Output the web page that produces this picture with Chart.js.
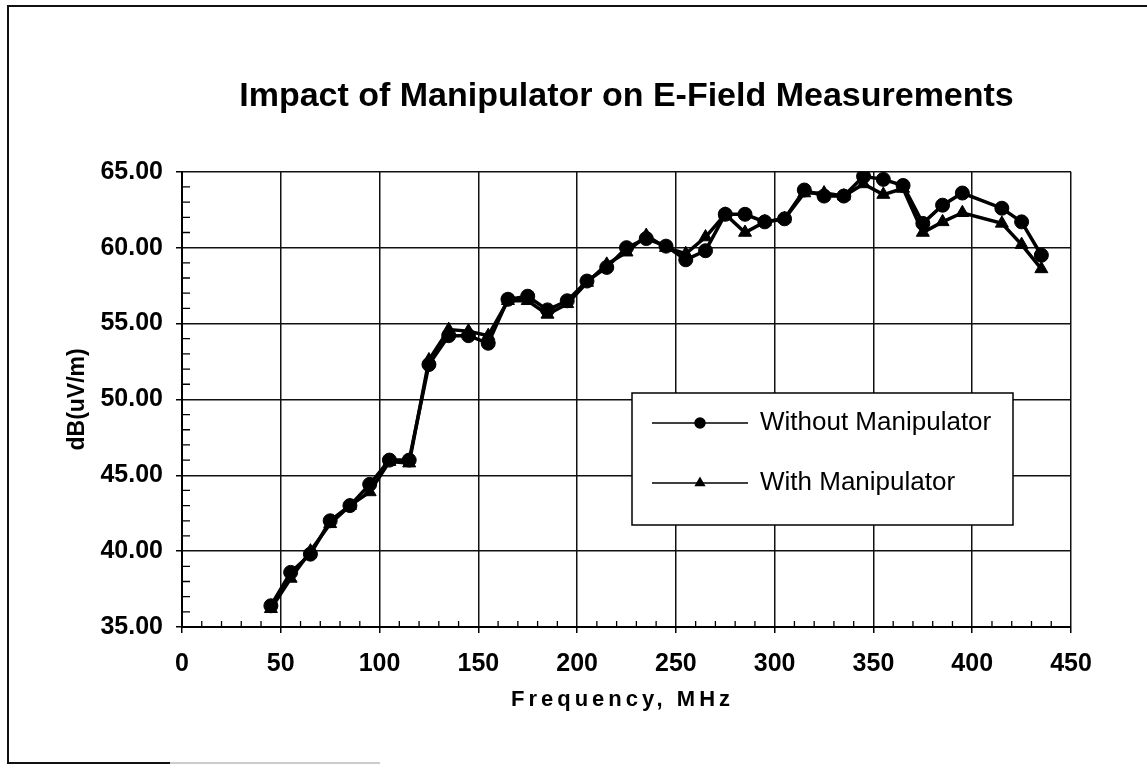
<!DOCTYPE html>
<html>
<head>
<meta charset="utf-8">
<script src="https://cdn.jsdelivr.net/npm/chart.js@4.4.0/dist/chart.umd.min.js"></script>
<style>
  body { margin: 0; background: #fff; }
  #wrap { width: 1147px; height: 770px; }
</style>
</head>
<body>
<div id="wrap"><canvas id="efield" width="1147" height="770"></canvas></div>
<script>
// Frequencies (MHz) - there is no point at 405
const freqs = [45, 55, 65, 75, 85, 95, 105, 115, 125, 135, 145, 155, 165, 175, 185, 195,
    205, 215, 225, 235, 245, 255, 265, 275, 285, 295, 305, 315, 325, 335, 345, 355,
    365, 375, 385, 395, 415, 425, 435];

// dB(uV/m)
const withoutManip = [36.4, 38.6, 39.8, 42.0, 43.0, 44.4, 46.0, 46.0, 52.3, 54.2, 54.2, 53.7,
    56.6, 56.8, 55.9, 56.5, 57.8, 58.7, 60.0, 60.6, 60.1, 59.2, 59.8, 62.2, 62.2, 61.7,
    61.9, 63.8, 63.4, 63.4, 64.7, 64.5, 64.1, 61.6, 62.8, 63.6, 62.6, 61.7, 59.5];
const withManip = [36.2, 38.2, 40.0, 41.8, 43.0, 43.9, 45.9, 45.8, 52.6, 54.6, 54.5, 54.2,
    56.5, 56.5, 55.6, 56.3, 57.7, 58.9, 59.7, 60.8, 60.0, 59.6, 60.7, 62.2, 61.0, 61.7,
    61.9, 63.6, 63.6, 63.4, 64.2, 63.5, 63.9, 61.0, 61.7, 62.3, 61.6, 60.2, 58.6];

const seriesNames = ["Without Manipulator", "With Manipulator"];
const titleText = "Impact of Manipulator on E-Field Measurements";
const xTitle = "Frequency, MHz";
const yTitle = "dB(uV/m)";

const FONT = "'Liberation Sans', Arial, sans-serif";

function toPoints(xs, ys) {
    return xs.map((x, i) => ({ x: x, y: ys[i] }));
}

// frame, inner minor ticks, x title and the boxed legend
const extras = {
    id: "extras",
    beforeDatasetsDraw(chart) {
        const ctx = chart.ctx;
        const xs = chart.scales.x, ys = chart.scales.y;
        const area = chart.chartArea;
        ctx.save();
        ctx.strokeStyle = "#000";
        ctx.lineWidth = 1.3;
        ctx.beginPath();
        for (let v = 10; v < 450; v += 10) {
            if (v % 50 === 0) continue;
            const px = xs.getPixelForValue(v);
            ctx.moveTo(px, area.bottom);
            ctx.lineTo(px, area.bottom - 6);
        }
        for (let v = 36; v < 65; v += 1) {
            if (v % 5 === 0) continue;
            const py = ys.getPixelForValue(v);
            ctx.moveTo(area.left, py);
            ctx.lineTo(area.left + 8, py);
        }
        ctx.stroke();
        ctx.restore();
    },
    afterDraw(chart) {
        const ctx = chart.ctx;
        const area = chart.chartArea;
        ctx.save();

        // outer frame
        ctx.strokeStyle = "#111";
        ctx.lineWidth = 2;
        ctx.beginPath();
        ctx.moveTo(1147, 6);
        ctx.lineTo(8, 6);
        ctx.lineTo(8, 763);
        ctx.lineTo(170, 763);
        ctx.stroke();
        ctx.strokeStyle = "#999";
        ctx.lineWidth = 1;
        ctx.beginPath();
        ctx.moveTo(170, 763);
        ctx.lineTo(380, 763);
        ctx.stroke();

        // x axis title
        ctx.fillStyle = "#000";
        ctx.font = "bold 22px " + FONT;
        ctx.textAlign = "center";
        ctx.textBaseline = "middle";
        ctx.letterSpacing = "4px";
        ctx.fillText(xTitle, (area.left + area.right) / 2 - 4, 700);
        ctx.letterSpacing = "0px";

        // legend box
        const bx = 632, by = 393, bw = 381, bh = 132;
        ctx.fillStyle = "#fff";
        ctx.fillRect(bx, by, bw, bh);
        ctx.strokeStyle = "#000";
        ctx.lineWidth = 1.5;
        ctx.strokeRect(bx, by, bw, bh);

        const rows = [423, 483];
        chart.data.datasets.forEach((ds, i) => {
            const y = rows[i];
            ctx.strokeStyle = "#000";
            ctx.lineWidth = 1.5;
            ctx.beginPath();
            ctx.moveTo(652, y);
            ctx.lineTo(748, y);
            ctx.stroke();
            ctx.fillStyle = "#000";
            Chart.helpers.drawPoint(ctx, {
                pointStyle: ds.pointStyle, radius: 5, rotation: 0, borderWidth: 1
            }, 700, y);
            ctx.fillStyle = "#000";
            ctx.font = "26px " + FONT;
            ctx.textAlign = "left";
            ctx.textBaseline = "middle";
            ctx.fillText(ds.label, 760, y);
        });
        ctx.restore();
    }
};

new Chart(document.getElementById("efield"), {
    type: "line",
    data: {
        datasets: [{
            label: seriesNames[0],
            data: toPoints(freqs, withoutManip),
            borderColor: "#000",
            backgroundColor: "#000",
            borderWidth: 3.5,
            pointStyle: "circle",
            pointRadius: 7,
            pointBorderWidth: 1,
            tension: 0
        }, {
            label: seriesNames[1],
            data: toPoints(freqs, withManip),
            borderColor: "#000",
            backgroundColor: "#000",
            borderWidth: 3.5,
            pointStyle: "triangle",
            pointRadius: 7.5,
            pointBorderWidth: 1,
            tension: 0
        }]
    },
    options: {
        responsive: false,
        animation: false,
        layout: { padding: { left: 0, right: 76, top: 0, bottom: 0 } },
        plugins: {
            legend: { display: false },
            tooltip: { enabled: false },
            title: {
                display: true,
                text: titleText,
                fullSize: false,
                color: "#000",
                font: { family: FONT, size: 34, weight: "bold" },
                padding: { top: 76, bottom: 55 }
            }
        },
        scales: {
            x: {
                type: "linear",
                min: 0,
                max: 450,
                ticks: {
                    stepSize: 50,
                    color: "#000",
                    font: { family: FONT, size: 25, weight: "bold" },
                    padding: 16
                },
                grid: { color: "#111", lineWidth: 1.5, tickLength: 6, tickColor: "#000" },
                border: { color: "#000", width: 2 },
                afterFit: (s) => { s.height = 143; }
            },
            y: {
                min: 35,
                max: 65,
                ticks: {
                    stepSize: 5,
                    color: "#000",
                    font: { family: FONT, size: 25, weight: "bold" },
                    padding: 13,
                    callback: (v) => Number(v).toFixed(2)
                },
                grid: { color: "#111", lineWidth: 1.5, tickLength: 6, tickColor: "#000" },
                border: { color: "#000", width: 2 },
                title: {
                    display: true,
                    text: yTitle,
                    color: "#000",
                    font: { family: FONT, size: 23, weight: "bold" },
                    padding: { top: 64, bottom: 0 }
                },
                afterFit: (s) => { s.width = 182; }
            }
        }
    },
    plugins: [extras]
});
</script>
</body>
</html>
